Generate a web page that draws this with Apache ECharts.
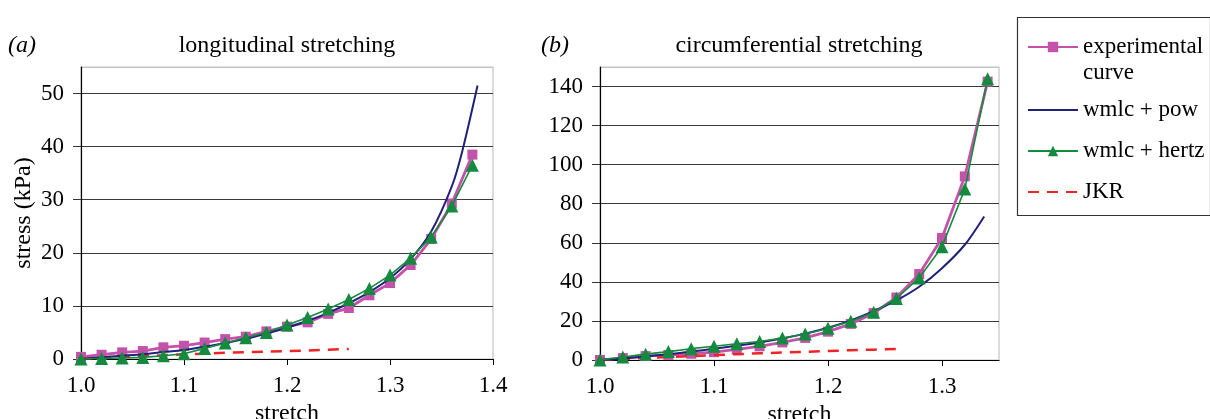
<!DOCTYPE html>
<html>
<head>
<meta charset="utf-8">
<script src="https://cdn.jsdelivr.net/npm/echarts@6/dist/echarts.min.js"></script>
<style>html,body{margin:0;padding:0;background:#fff;}#c{width:1210px;height:419px;}</style>
</head>
<body>
<div id="c"></div>
<script>
// ---------- data ----------
var seriesNames = ['experimental curve', 'wmlc + pow', 'wmlc + hertz', 'JKR'];

// panel (a) longitudinal stretching
var stretchA = [1.00,1.02,1.04,1.06,1.08,1.10,1.12,1.14,1.16,1.18,1.20,1.22,1.24,1.26,1.28,1.30,1.32,1.34,1.36,1.38];
var expA =     [0.4, 0.8, 1.25,1.5, 2.2, 2.5, 3.1, 3.75,4.2, 5.2, 6.1, 6.9, 8.5, 9.6, 12.0,14.3,17.7,22.6,29.3,38.5];
var hertzA =   [0.0, 0.1, 0.2, 0.3, 0.6, 1.0, 2.0, 3.0, 4.0, 5.0, 6.4, 7.8, 9.4, 11.2,13.3,15.8,19.0,23.0,28.8,36.5];
var powStretchA = [1.00,1.02,1.04,1.06,1.08,1.10,1.12,1.14,1.16,1.18,1.20,1.22,1.24,1.26,1.28,1.30,1.32,1.34,1.36,1.37,1.385];
var powA =        [0.0, 0.3, 0.6, 0.9, 1.3, 1.7, 2.3, 3.0, 3.8, 4.8, 5.9, 7.2, 8.7, 10.5,12.6,15.2,18.8,24.0,32.5,39.0,51.5];
var jkrStretchA = [1.00,1.02,1.04,1.06,1.08,1.10,1.12,1.14,1.16,1.18,1.20,1.22,1.24,1.26];
var jkrA =        [0.0, 0.3, 0.5, 0.6, 0.7, 0.9, 1.0, 1.2, 1.3, 1.4, 1.5, 1.6, 1.75,1.9];

// panel (b) circumferential stretching
var stretchB = [1.00,1.02,1.04,1.06,1.08,1.10,1.12,1.14,1.16,1.18,1.20,1.22,1.24,1.26,1.28,1.30,1.32,1.34];
var expB =     [0.0, 1.0, 2.0, 2.6, 3.2, 4.0, 5.4, 7.0, 9.0, 11.3,14.5,18.5,24.0,32.0,44.0,62.5,94.0,142.5];
var hertzB =   [0.0, 1.5, 3.0, 4.3, 5.8, 7.0, 8.3, 9.5, 11.2,13.3,16.3,19.8,24.5,31.5,42.0,58.0,87.5,144.0];
var powStretchB = [1.00,1.02,1.04,1.06,1.08,1.10,1.12,1.14,1.16,1.18,1.20,1.22,1.24,1.26,1.28,1.30,1.32,1.337];
var powB =        [0.0, 0.8, 1.8, 3.0, 4.3, 5.7, 7.3, 9.0, 11.0,13.5,16.5,20.3,25.0,30.5,37.5,47.0,59.0,73.5];
var jkrStretchB = [1.00,1.02,1.04,1.06,1.08,1.10,1.12,1.14,1.16,1.18,1.20,1.22,1.24,1.26];
var jkrB =        [0.0, 0.5, 1.0, 1.5, 2.0, 2.5, 3.0, 3.4, 3.8, 4.2, 4.6, 5.0, 5.3, 5.6];

var panelLabels = ['(a)', '(b)'];
var panelTitles = ['longitudinal stretching', 'circumferential stretching'];
var xAxisName = 'stretch';
var yAxisName = 'stress (kPa)';

// ---------- helpers ----------
function pairs(xs, ys) { return xs.map(function (x, i) { return [x, ys[i]]; }); }

var FONT = 'Liberation Serif, Times New Roman, serif';
var C_EXP = '#c353aa', C_POW = '#21217a', C_HERTZ = '#148a3e', C_JKR = '#ee2424';

function makeSeries(idx, stretch, exp, hertz, powS, pow, jkrS, jkr) {
  return [
    { name: seriesNames[0], type: 'line', xAxisIndex: idx, yAxisIndex: idx, data: pairs(stretch, exp),
      symbol: 'rect', symbolSize: 10, lineStyle: { width: 2.8, color: C_EXP }, itemStyle: { color: C_EXP }, z: 2 },
    { name: seriesNames[3], type: 'line', xAxisIndex: idx, yAxisIndex: idx, data: pairs(jkrS, jkr),
      symbol: 'none', lineStyle: { width: 2.5, color: C_JKR, type: [11, 8] }, itemStyle: { color: C_JKR }, z: 3 },
    { name: seriesNames[1], type: 'line', xAxisIndex: idx, yAxisIndex: idx, data: pairs(powS, pow),
      symbol: 'none', smooth: 0.3, lineStyle: { width: 2, color: C_POW }, itemStyle: { color: C_POW }, z: 4 },
    { name: seriesNames[2], type: 'line', xAxisIndex: idx, yAxisIndex: idx, data: pairs(stretch, hertz),
      symbol: 'triangle', symbolSize: 13, lineStyle: { width: 1.6, color: C_HERTZ }, itemStyle: { color: C_HERTZ }, z: 5 }
  ];
}

function xAxis(idx, max) {
  return { type: 'value', gridIndex: idx, min: 1.0, max: max, interval: 0.1,
    name: xAxisName, nameLocation: 'middle', nameGap: 42,
    nameTextStyle: { fontFamily: FONT, fontSize: 24, color: '#000' },
    axisLine: { lineStyle: { color: '#000', width: 1.2 } },
    axisTick: { show: true, inside: false, length: 6, lineStyle: { color: '#000' } },
    axisLabel: { showMaxLabel: idx === 0, fontFamily: FONT, fontSize: 23, color: '#000', margin: 15,
      formatter: function (v) { return v.toFixed(1); } },
    splitLine: { show: false } };
}

function yAxis(idx, max, interval, nTicks) {
  var cols = [];
  for (var i = 0; i < nTicks; i++) cols.push('#3a3a3a');
  cols.push('#c4c4c4');
  return { type: 'value', gridIndex: idx, min: 0, max: max, interval: interval,
    name: idx === 0 ? yAxisName : '', nameLocation: 'middle', nameGap: 45, nameRotate: 90,
    nameTextStyle: { fontFamily: FONT, fontSize: 24, color: '#000' },
    axisLine: { show: true, lineStyle: { color: '#000', width: 1.2 } },
    axisTick: { show: true, inside: false, length: 8, lineStyle: { color: '#333' } },
    axisLabel: { showMaxLabel: false, fontFamily: FONT, fontSize: 23, color: '#000', margin: 17 },
    splitLine: { show: true, lineStyle: { color: cols, width: 1.2 } } };
}

var chart = echarts.init(document.getElementById('c'), null, { renderer: 'canvas' });

var option = {
  animation: false,
  backgroundColor: '#fff',
  grid: [
    { left: 81, top: 67, width: 412, height: 292, outerBoundsMode: 'none', containLabel: false, show: true, borderColor: '#c4c4c4', borderWidth: 1.2, backgroundColor: 'transparent' },
    { left: 600, top: 67, width: 399, height: 293, outerBoundsMode: 'none', containLabel: false, show: true, borderColor: '#c4c4c4', borderWidth: 1.2, backgroundColor: 'transparent' }
  ],
  xAxis: [xAxis(0, 1.4), xAxis(1, 1.35)],
  yAxis: [yAxis(0, 55, 10, 6), yAxis(1, 150, 20, 8)],
  legend: {
    orient: 'vertical', left: 1027, top: 8, padding: 0, itemGap: 7,
    itemWidth: 50, itemHeight: 13, selectedMode: false,
    textStyle: { fontFamily: FONT, fontSize: 23, color: '#000', lineHeight: 34 },
    data: [
      { name: seriesNames[0], textStyle: { lineHeight: 26 } },
      { name: seriesNames[1], itemStyle: { opacity: 0 } },
      { name: seriesNames[2] },
      { name: seriesNames[3], itemStyle: { opacity: 0 } }
    ],
    formatter: function (n) { return n === 'experimental curve' ? '\u00a0\nexperimental\ncurve' : n; }
  },
  graphic: [
    { type: 'rect', left: 1015, top: 15, shape: { width: 193, height: 198 }, style: { fill: 'none', stroke: '#333', lineWidth: 1.2 }, z: -1 },
    { type: 'text', x: 8, y: 46, style: { text: panelLabels[0], font: 'italic 24px ' + FONT, textVerticalAlign: 'middle', fill: '#000' } },
    { type: 'text', x: 287, y: 46, style: { text: panelTitles[0], font: '24px ' + FONT, textAlign: 'center', textVerticalAlign: 'middle', fill: '#000' } },
    { type: 'text', x: 541, y: 46, style: { text: panelLabels[1], font: 'italic 24px ' + FONT, textVerticalAlign: 'middle', fill: '#000' } },
    { type: 'text', x: 799, y: 46, style: { text: panelTitles[1], font: '24px ' + FONT, textAlign: 'center', textVerticalAlign: 'middle', fill: '#000' } }
  ],
  series: [].concat(
    makeSeries(0, stretchA, expA, hertzA, powStretchA, powA, jkrStretchA, jkrA),
    makeSeries(1, stretchB, expB, hertzB, powStretchB, powB, jkrStretchB, jkrB)
  )
};
chart.setOption(option);
</script>
</body>
</html>
